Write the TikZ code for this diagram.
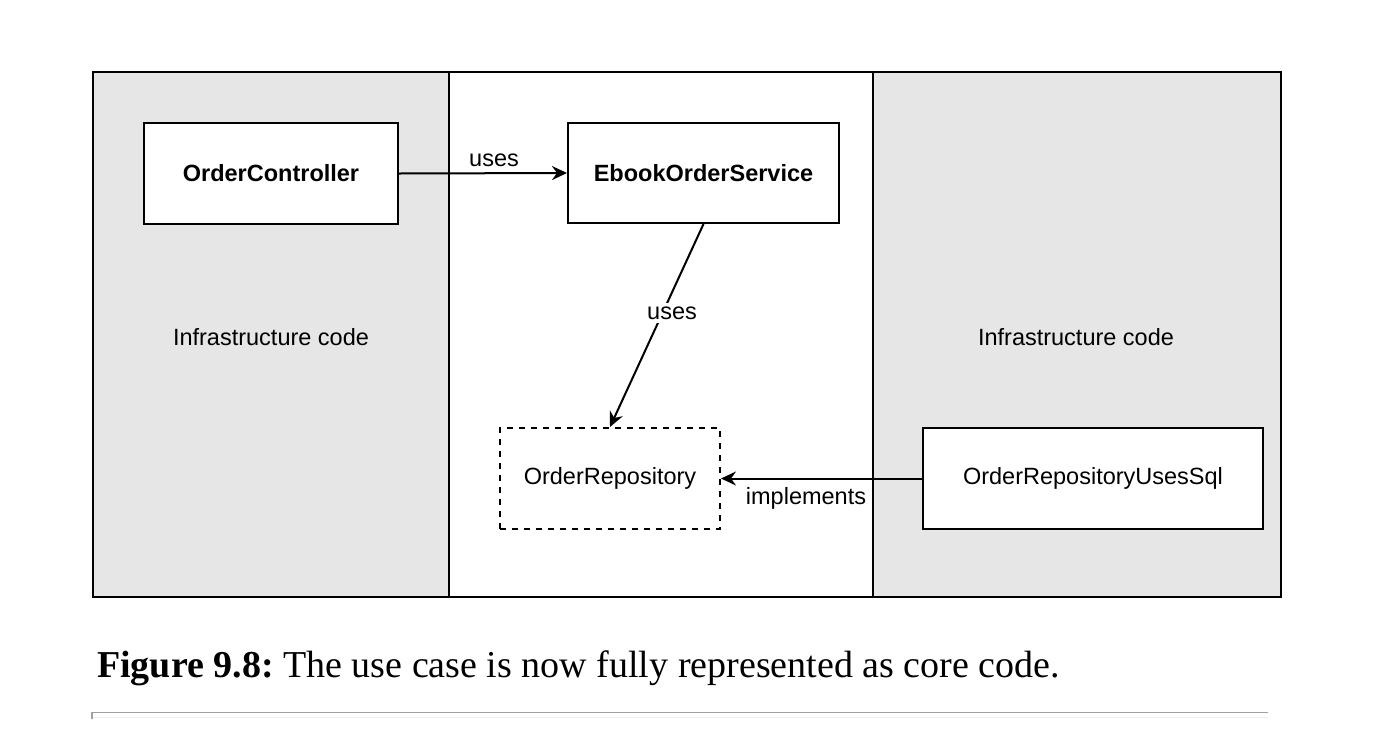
\documentclass[tikz,border=0pt]{standalone}
\usepackage{fontspec}
\setmainfont{Liberation Sans}
\newfontfamily\capfont{Liberation Serif}
\usetikzlibrary{arrows.meta}
\definecolor{panelgray}{HTML}{E6E6E6}
\tikzset{
  panel/.style={draw=black, line width=2pt},
  classbox/.style={draw=black, line width=2pt, fill=white, font=\fontsize{23.5}{28}\selectfont\bfseries},
  ifacebox/.style={draw=black, line width=2pt, dashed, dash pattern=on 6pt off 6pt, font=\fontsize{23.5}{28}\selectfont},
  implbox/.style={draw=black, line width=2pt, fill=white, font=\fontsize{23.5}{28}\selectfont},
  conn/.style={line width=2pt, -{Stealth[length=15pt,width=14pt,inset=5pt]}},
  lbl/.style={font=\fontsize{23.5}{28}\selectfont},
}
\begin{document}
\begin{tikzpicture}[x=1pt,y=-1pt]
\useasboundingbox (0,0) rectangle (1400,737);
% panels
\fill[panelgray] (93,72) rectangle (449,597);
\fill[panelgray] (873,72) rectangle (1281,597);
\draw[panel] (93,72) rectangle (1281,597);
\draw[panel] (449,72) -- (449,597);
\draw[panel] (873,72) -- (873,597);
% labels of panels
\node[lbl] (infl) at (271,337) {Infrastructure code};
\node[lbl] (infr) at (1076,337) {Infrastructure code};
% boxes
\node[classbox, minimum width=254pt, minimum height=101pt] (oc) at (271,173.5) {OrderController};
\node[classbox, minimum width=271pt, minimum height=100pt] (eos) at (703.5,173) {EbookOrderService};
\node[ifacebox, minimum width=220pt, minimum height=101pt] (or) at (610,478.5) {OrderRepository};
\node[implbox, minimum width=340pt, minimum height=101pt] (ors) at (1093,478.5) {OrderRepositoryUsesSql};
% connectors
\draw[conn] (oc.east) -- (eos.west);
\node[lbl] (l1) at (494,160) {uses};
\draw[conn] (eos.south) -- (or.north);
\node[lbl, fill=white, inner sep=4pt] (l2) at (672,313) {uses};
\draw[conn] (ors.west) -- (or.east);
\node[lbl] (l3) at (806,498) {implements};
% caption
\node[anchor=base west, inner sep=0pt, font=\capfont\fontsize{38}{42}\selectfont] (cap) at (97,677) {\textbf{Figure 9.8:}~The use case is now fully represented as core code.};
% bottom rule
\draw[line width=1pt, color={rgb,255:red,238;green,238;blue,238}] (93,717) -- (1268,717);
\draw[line width=1.5pt, color={rgb,255:red,160;green,160;blue,160}] (92,719) -- (92,712.5) -- (1268,712.5);
\end{tikzpicture}
\end{document}
